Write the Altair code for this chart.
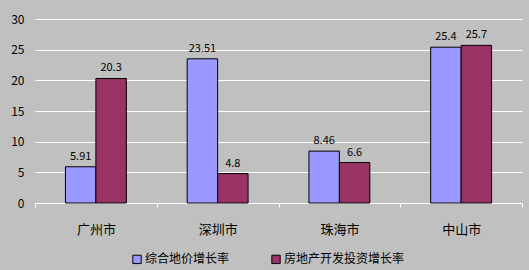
import altair as alt
import pandas as pd

cities = ["广州市", "深圳市", "珠海市", "中山市"]
series = ["综合地价增长率", "房地产开发投资增长率"]
land_price = [5.91, 23.51, 8.46, 25.4]
investment = [20.3, 4.8, 6.6, 25.7]
land_labels = ["5.91", "23.51", "8.46", "25.4"]
inv_labels = ["20.3", "4.8", "6.6", "25.7"]

rows = []
for i, c in enumerate(cities):
    rows.append({"city": c, "series": series[0], "value": land_price[i], "label": land_labels[i]})
    rows.append({"city": c, "series": series[1], "value": investment[i], "label": inv_labels[i]})
df = pd.DataFrame(rows)

FONT = "Noto Sans CJK SC"

x = alt.X("city:N", sort=cities, title=None,
          scale=alt.Scale(paddingInner=0, paddingOuter=0),
          axis=alt.Axis(labelAngle=0, domainColor="white", domainWidth=1,
                        tickColor="white", tickSize=4, tickBand="extent",
                        labelPadding=16, labelFontSize=13, labelColor="black",
                        labelFont=FONT, labelFontWeight="normal", grid=False))
xo = alt.XOffset("series:N", sort=series,
                 scale=alt.Scale(paddingOuter=1, paddingInner=0))
y = alt.Y("value:Q", title=None,
          scale=alt.Scale(domain=[0, 30], nice=False),
          axis=alt.Axis(tickCount=6, tickMinStep=5, labelOverlap=False,
                        domain=False, ticks=False,
                        labelPadding=11, labelFontSize=12, labelColor="black",
                        labelFont=FONT, gridColor="white", gridWidth=1, gridOpacity=1))

bars = alt.Chart(df).mark_bar(stroke="black", strokeWidth=1).encode(
    x=x, xOffset=xo, y=y,
    color=alt.Color("series:N", sort=series, title=None,
                    scale=alt.Scale(domain=series, range=["#9999ff", "#993366"]),
                    legend=alt.Legend(orient="none", direction="horizontal",
                                      legendX=96, legendY=234,
                                      symbolType="square", symbolSize=70,
                                      symbolStrokeColor="black", symbolStrokeWidth=1,
                                      symbolOpacity=1,
                                      labelFontSize=12, labelFont=FONT, labelColor="black",
                                      columnPadding=39, labelOffset=2)),
)

texts = alt.Chart(df).mark_text(baseline="bottom", dy=-5, fontSize=11, font=FONT,
                                color="black").encode(
    x=x, xOffset=xo, y=y, text="label:N",
)

chart = alt.layer(bars, texts).properties(
    width=487, height=184,
    autosize=alt.AutoSizeParams(type="none"),
    padding={"left": 35, "top": 19, "right": 7, "bottom": 67},
    background="#c0c0c0",
).configure_view(stroke=None, fill="#c0c0c0")

chart.save("out.html", embed_options={"renderer": "svg", "actions": False})
